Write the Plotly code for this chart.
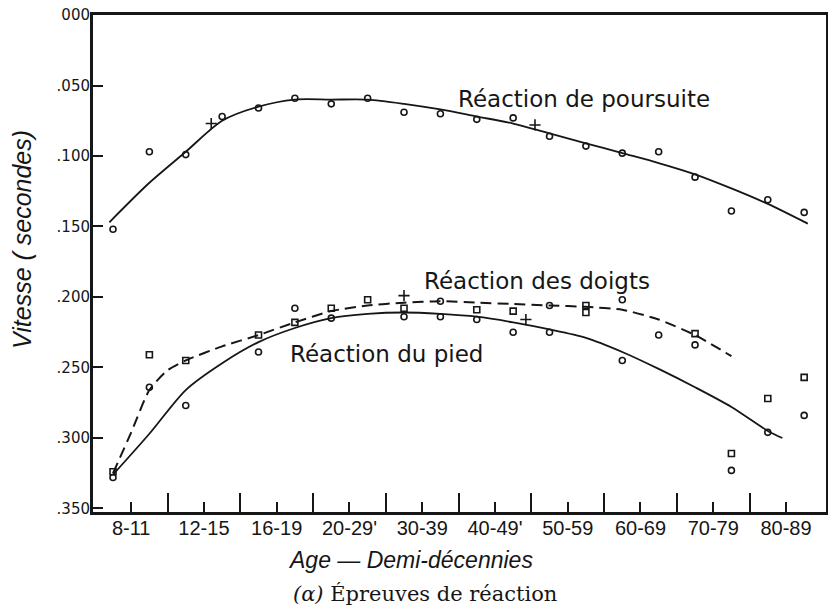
import plotly.graph_objects as go

# ---------------- data ----------------
# x = half-decade index (0 .. 19), two half-decades per age class
half_decade = list(range(20))
age_classes = ["8-11", "12-15", "16-19", "20-29'", "30-39", "40-49'",
               "50-59", "60-69", "70-79", "80-89"]
class_centers = [0.5, 2.5, 4.5, 6.5, 8.5, 10.5, 12.5, 14.5, 16.5, 18.5]
class_bounds = [1.5, 3.5, 5.5, 7.5, 9.5, 11.5, 13.5, 15.5, 17.5]

y_ticks = [0.0, 0.05, 0.10, 0.15, 0.20, 0.25, 0.30, 0.35]
y_ticktext = ["000", ".050", ".100", ".150", ".200", ".250", ".300", ".350"]

# Réaction de poursuite (observed points)
poursuite_obs = [0.152, 0.097, 0.099, 0.072, 0.066, 0.059, 0.063, 0.059, 0.069, 0.070,
                 0.074, 0.073, 0.086, 0.093, 0.098, 0.097, 0.115, 0.139, 0.131, 0.140]
# fitted curve
poursuite_fit_x = [-0.1, 1, 2, 3, 4, 5, 6, 7, 8, 9, 10, 11, 12, 13, 14, 15, 16, 17, 18, 19.1]
poursuite_fit = [0.147, 0.119, 0.097, 0.075, 0.065, 0.060, 0.060, 0.060, 0.063, 0.067,
                 0.072, 0.077, 0.084, 0.091, 0.098, 0.105, 0.113, 0.123, 0.134, 0.148]

# Réaction des doigts (observed points)
doigts_obs = [0.324, 0.241, 0.245, None, 0.227, 0.208, 0.208, 0.202, 0.208, 0.203,
              0.209, 0.210, 0.206, 0.206, 0.202, 0.227, 0.226, 0.311, 0.272, 0.257]
doigts_fit_x = [0, 0.5, 1, 1.5, 2, 3, 4, 5, 6, 7, 8, 9, 10, 11, 12, 13, 14, 15, 16, 17]
doigts_fit = [0.325, 0.296, 0.266, 0.252, 0.245, 0.235, 0.227, 0.218, 0.210, 0.206,
              0.204, 0.203, 0.204, 0.205, 0.206, 0.207, 0.209, 0.216, 0.227, 0.242]

# Réaction du pied (observed points)
pied_obs = [0.328, 0.264, 0.277, None, 0.239, 0.218, 0.215, None, 0.214, 0.214,
            0.216, 0.225, 0.225, 0.211, 0.245, None, 0.234, 0.323, 0.296, 0.284]
pied_fit_x = [0, 1, 2, 3, 4, 5, 6, 7, 8, 9, 10, 11, 12, 13, 14, 15, 16, 17, 18, 18.4]
pied_fit = [0.326, 0.297, 0.266, 0.247, 0.232, 0.222, 0.215, 0.212, 0.211, 0.212,
            0.214, 0.218, 0.223, 0.229, 0.239, 0.251, 0.264, 0.278, 0.295, 0.300]

# small reference marks drawn on the curves
marks_x = [2.7, 11.6, 8.0, 11.35]
marks_y = [0.077, 0.078, 0.199, 0.216]

# ---------------- styles ----------------
INK = "#161616"
doigts_symbols = ["square-open"] * 20
for k in (5, 9, 12, 14, 15):
    doigts_symbols[k] = "circle-open"
pied_symbols = ["circle-open"] * 20
for k in (5, 13):
    pied_symbols[k] = "square-open"

fig = go.Figure()

# curves
fig.add_trace(go.Scatter(x=poursuite_fit_x, y=poursuite_fit, mode="lines",
                         line=dict(color=INK, width=1.8, shape="spline", smoothing=0.8),
                         hoverinfo="skip", showlegend=False))
fig.add_trace(go.Scatter(x=doigts_fit_x, y=doigts_fit, mode="lines",
                         line=dict(color=INK, width=2, dash="11px,6px", shape="spline", smoothing=0.6),
                         hoverinfo="skip", showlegend=False))
fig.add_trace(go.Scatter(x=pied_fit_x, y=pied_fit, mode="lines",
                         line=dict(color=INK, width=1.8, shape="spline", smoothing=0.8),
                         hoverinfo="skip", showlegend=False))

# observed points
fig.add_trace(go.Scatter(x=half_decade, y=poursuite_obs, mode="markers", name="Réaction de poursuite",
                         marker=dict(symbol="circle-open", size=6, color=INK, line=dict(width=1.6, color=INK)),
                         showlegend=False))
fig.add_trace(go.Scatter(x=half_decade, y=doigts_obs, mode="markers", name="Réaction des doigts",
                         marker=dict(symbol=doigts_symbols, size=6, color=INK, line=dict(width=1.6, color=INK)),
                         showlegend=False))
fig.add_trace(go.Scatter(x=half_decade, y=pied_obs, mode="markers", name="Réaction du pied",
                         marker=dict(symbol=pied_symbols, size=6, color=INK, line=dict(width=1.6, color=INK)),
                         showlegend=False))
fig.add_trace(go.Scatter(x=marks_x, y=marks_y, mode="markers",
                         marker=dict(symbol="cross-thin-open", size=8, color=INK, line=dict(width=1.6, color=INK)),
                         hoverinfo="skip", showlegend=False))

# ---------------- layout ----------------
W, H = 828, 610
L, R, T, B = 93, 2, 15, 98
PW, PH = W - L - R, H - T - B


def px(xp):
    return (xp - L) / PW


def py(yp):
    return (H - B - yp) / PH


fig.update_layout(
    template="none",
    width=W, height=H,
    margin=dict(l=L, r=R, t=T, b=B, pad=0, autoexpand=False),
    paper_bgcolor="white", plot_bgcolor="white",
    font=dict(family="Liberation Sans, Arial, sans-serif", color=INK),
    xaxis=dict(range=[-0.55, 19.6], showgrid=False, zeroline=False, automargin=False,
               showline=True, linewidth=2.5, linecolor=INK, mirror=True,
               tickmode="array", tickvals=class_centers, ticktext=age_classes,
               ticks="inside", ticklen=10, tickwidth=2, tickcolor=INK,
               tickfont=dict(family="Liberation Sans, Arial, sans-serif", size=20, color=INK),
               ticklabelstandoff=-4, ticklabeloverflow="allow",
               minor=dict(tickmode="array", tickvals=class_bounds, ticks="inside",
                          ticklen=19, tickwidth=2, tickcolor=INK, showgrid=False)),
    yaxis=dict(range=[0.3525, 0.0], showgrid=False, zeroline=False, automargin=False,
               showline=True, linewidth=3, linecolor=INK, mirror=True,
               tickmode="array", tickvals=y_ticks, ticktext=y_ticktext,
               ticks="inside", ticklen=10, tickwidth=2, tickcolor=INK,
               tickfont=dict(family="DejaVu Sans, sans-serif", size=15, color=INK),
               ticklabelstandoff=-3, ticklabeloverflow="allow"),
    annotations=[
        dict(text="Réaction de poursuite", xref="paper", yref="paper", x=px(456), y=py(99),
             xanchor="left", yanchor="middle", showarrow=False,
             font=dict(family="DejaVu Sans, sans-serif", size=23, color=INK)),
        dict(text="Réaction des doigts", xref="paper", yref="paper", x=px(422), y=py(281),
             xanchor="left", yanchor="middle", showarrow=False,
             font=dict(family="DejaVu Sans, sans-serif", size=23, color=INK)),
        dict(text="Réaction du pied", xref="paper", yref="paper", x=px(288), y=py(354),
             xanchor="left", yanchor="middle", showarrow=False,
             font=dict(family="DejaVu Sans, sans-serif", size=23, color=INK)),
        dict(text="Vitesse ( secondes)", xref="paper", yref="paper", x=px(22), y=py(240),
             xanchor="center", yanchor="middle", textangle=-90, showarrow=False,
             font=dict(family="Liberation Sans, Arial, sans-serif", size=25, style="italic", color=INK)),
        dict(text="Age — Demi-décennies", xref="paper", yref="paper", x=px(410), y=py(560),
             xanchor="center", yanchor="middle", showarrow=False,
             font=dict(family="Liberation Sans, Arial, sans-serif", size=23, style="italic", color=INK)),
        dict(text="<i>(α)</i> Épreuves de réaction", xref="paper", yref="paper", x=px(425), y=py(594),
             xanchor="center", yanchor="middle", showarrow=False,
             font=dict(family="DejaVu Serif, serif", size=21, color=INK)),
    ],
)

# remove the default page margin so the figure sits at the window's top-left corner
fig.write_html("out.html", config={"displayModeBar": False},
               post_script="document.body.style.margin='0';")
